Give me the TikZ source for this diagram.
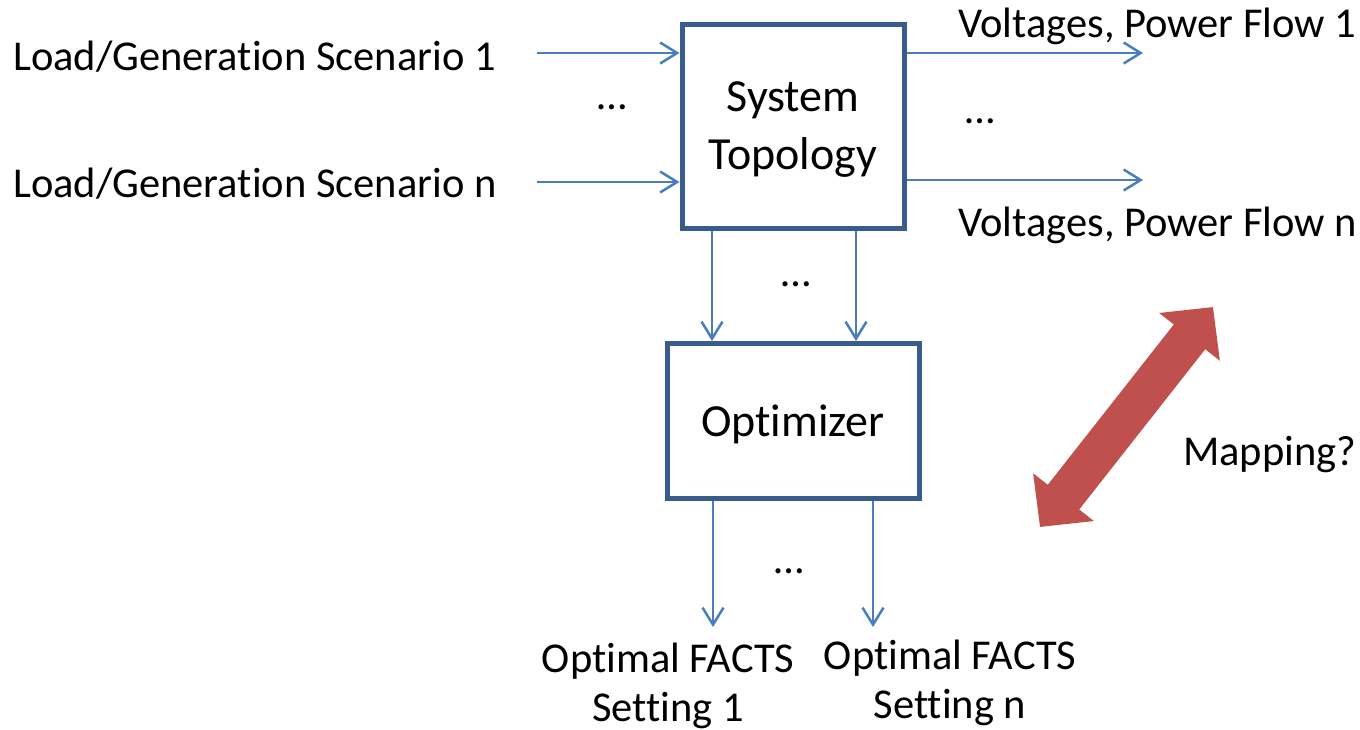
\documentclass[tikz,border=0pt]{standalone}
\usepackage{fontspec}
\setmainfont{Carlito}[Ligatures=NoCommon]
\usetikzlibrary{arrows.meta,positioning}

\definecolor{boxblue}{HTML}{385D8A}
\definecolor{flowblue}{HTML}{4A7EBB}
\definecolor{mapred}{HTML}{C0504D}

\begin{document}
\begin{tikzpicture}[x=1pt, y=-1pt,
    >={Straight Barb[length=17pt,width=21pt]},
    block/.style={draw=boxblue, line width=5pt, fill=white, align=center,
                  font=\fontsize{46}{58}\selectfont, inner sep=0pt, text depth=0pt},
    flow/.style={->, draw=flowblue, line width=2.5pt},
    lbl/.style={font=\fontsize{42.5}{49}\selectfont, inner sep=0pt},
    dots/.style={font=\fontsize{42.5}{49}\selectfont, inner sep=0pt, anchor=base},
    mapping/.style={draw=mapred, line width=40pt,
                    {Triangle[length=38pt,width=75pt]}-{Triangle[length=38pt,width=75pt]}}]

  \useasboundingbox (0,0) rectangle (1360,729);

  %%%%%%%%%%%%%%%%%%%%%%%%%%%%%%%%%%%%%%%%%%%%%%%%%
  % Blocks
  \node[block, minimum width=222pt, minimum height=204pt] (sys) at (793,126) {System\\Topology};
  \node[block, minimum width=252pt, minimum height=155pt] (opt) at (793,421) {Optimizer};

  %%%%%%%%%%%%%%%%%%%%%%%%%%%%%%%%%%%%%%%%%%%%%%%%%
  % Inputs
  \node[lbl, anchor=base west] (in1) at (13,70) {Load/Generation Scenario 1};
  \node[lbl, anchor=base west] (inn) at (13,197) {Load/Generation Scenario n};
  \coordinate (a1) at (537,53);
  \coordinate (an) at (537,182);
  \draw[flow] (a1) -- (a1 -| sys.west);
  \draw[flow] (an) -- (an -| sys.west);
  \node[dots] (d1) at (612,109) {…};

  %%%%%%%%%%%%%%%%%%%%%%%%%%%%%%%%%%%%%%%%%%%%%%%%%
  % Outputs
  \node[lbl, anchor=base west] (out1) at (958,37) {Voltages, Power Flow 1};
  \node[lbl, anchor=base west] (outn) at (958,236) {Voltages, Power Flow n};
  \coordinate (b1) at (1143,53);
  \coordinate (bn) at (1143,180);
  \draw[flow] (b1 -| sys.east) -- (b1);
  \draw[flow] (bn -| sys.east) -- (bn);
  \node[dots] (d2) at (980,123) {…};

  %%%%%%%%%%%%%%%%%%%%%%%%%%%%%%%%%%%%%%%%%%%%%%%%%
  % Topology to optimizer
  \coordinate (c1) at (712,0);
  \coordinate (cn) at (856,0);
  \draw[flow] (c1 |- sys.south) -- (c1 |- opt.north);
  \draw[flow] (cn |- sys.south) -- (cn |- opt.north);
  \node[dots] (d3) at (796,286) {…};

  %%%%%%%%%%%%%%%%%%%%%%%%%%%%%%%%%%%%%%%%%%%%%%%%%
  % Settings
  \coordinate (e1) at (713,627);
  \coordinate (en) at (873,627);
  \draw[flow] (e1 |- opt.south) -- (e1);
  \draw[flow] (en |- opt.south) -- (en);
  \node[dots] (d4) at (789,573) {…};
  \node[lbl, align=center, anchor=north] (set1) at (668,643) {Optimal FACTS\\Setting 1};
  \node[lbl, align=center, anchor=north] (setn) at (950,640) {Optimal FACTS\\Setting n};

  %%%%%%%%%%%%%%%%%%%%%%%%%%%%%%%%%%%%%%%%%%%%%%%%%
  % Mapping
  \coordinate (m1) at (1040,527);
  \coordinate (m2) at (1213,307);
  \draw[mapping] (m1) -- (m2);
  \node[lbl, anchor=base west] (map) at (1183,465) {Mapping?};

\end{tikzpicture}
\end{document}
